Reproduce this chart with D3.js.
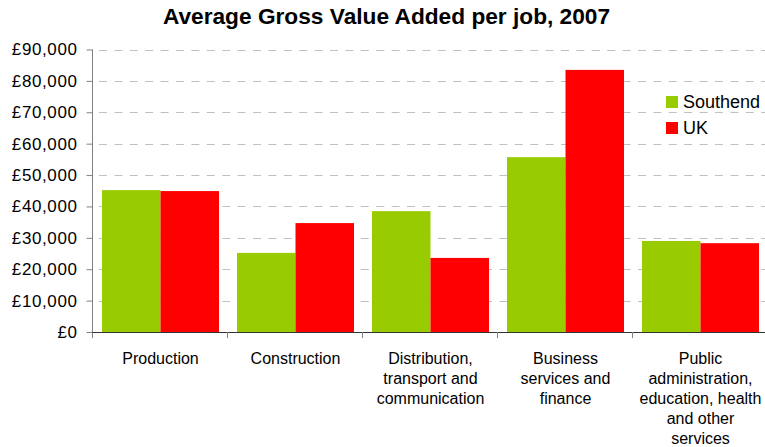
<!DOCTYPE html>
<html>
<head>
<meta charset="utf-8">
<script src="https://cdn.jsdelivr.net/npm/d3@7"></script>
<style>
  html, body { margin: 0; padding: 0; background: #fff; }
  svg { display: block; font-family: "Liberation Sans", Arial, Helvetica, sans-serif; }
</style>
</head>
<body>
<svg id="chart" width="765" height="447"></svg>
<script>
// Average Gross Value Added per job by sector, 2007 (£)
const categories = [
  "Production",
  "Construction",
  "Distribution,\ntransport and\ncommunication",
  "Business\nservices and\nfinance",
  "Public\nadministration,\neducation, health\nand other\nservices"
];
const seriesNames = ["Southend", "UK"];
const southend = [45200, 25200, 38500, 55700, 29000];
const uk = [44900, 34700, 23600, 83500, 28300];
const yTicks = [0, 10000, 20000, 30000, 40000, 50000, 60000, 70000, 80000, 90000];
const colors = ["#99CC00", "#FF0000"];

const rows = categories.map((c, i) => ({ cat: c, values: [southend[i], uk[i]] }));

const svg = d3.select("#chart");
const plotLeft = 93, plotRight = 768, plotTop = 49.5, plotBottom = 332;

const x = d3.scaleBand().domain(categories).range([plotLeft, plotRight]);
const xs = d3.scaleBand().domain(seriesNames).range([9, x.bandwidth() - 9]);
const y = d3.scaleLinear().domain([0, 90000]).range([plotBottom, plotTop]);

// Title
svg.append("text")
  .attr("x", 386.5).attr("y", 24)
  .attr("text-anchor", "middle")
  .style("font-size", "22.7px").style("font-weight", "bold")
  .text("Average Gross Value Added per job, 2007");

// Dashed gridlines
svg.append("g").selectAll("line")
  .data(yTicks.filter(d => d > 0))
  .join("line")
  .attr("x1", plotLeft + 6).attr("x2", 765)
  .attr("y1", d => Math.round(y(d)) + 0.5).attr("y2", d => Math.round(y(d)) + 0.5)
  .attr("stroke", "#C0C0C0").attr("stroke-width", 1)
  .attr("stroke-dasharray", "8,7.4");

// Bars
const groups = svg.append("g").selectAll("g")
  .data(rows).join("g")
  .attr("transform", d => `translate(${x(d.cat)},0)`);
groups.selectAll("rect")
  .data(d => d.values.map((v, i) => ({ key: seriesNames[i], v, i })))
  .join("rect")
  .attr("x", d => xs(d.key))
  .attr("width", xs.bandwidth())
  .attr("y", d => y(d.v))
  .attr("height", d => y(0) - y(d.v))
  .attr("fill", d => colors[d.i]);

// Y axis
const yAxis = svg.append("g")
  .attr("transform", `translate(${plotLeft - 0.5},0)`)
  .call(d3.axisLeft(y).tickValues(yTicks).tickSize(6).tickPadding(9)
    .tickFormat(d => "£" + d3.format(",")(d)));
yAxis.select(".domain").remove();
yAxis.selectAll(".tick line").attr("stroke", "#808080");
yAxis.selectAll(".tick text")
  .style("font-size", "17px").style("letter-spacing", "0.6px").attr("fill", "#000")
  .style("font-family", "'Liberation Sans', Arial, sans-serif");
svg.append("line")
  .attr("x1", plotLeft - 0.5).attr("x2", plotLeft - 0.5)
  .attr("y1", plotTop).attr("y2", plotBottom + 6)
  .attr("stroke", "#808080");

// X axis baseline and category ticks
svg.append("line")
  .attr("x1", plotLeft - 0.5).attr("x2", 765)
  .attr("y1", plotBottom + 0.5).attr("y2", plotBottom + 0.5)
  .attr("stroke", "#333");
svg.append("g").selectAll("line")
  .data(categories.slice(1))
  .join("line")
  .attr("x1", d => x(d) - 0.5).attr("x2", d => x(d) - 0.5)
  .attr("y1", plotBottom).attr("y2", plotBottom + 6)
  .attr("stroke", "#808080");

// Category labels
const labels = svg.append("g").selectAll("text")
  .data(categories).join("text")
  .attr("text-anchor", "middle")
  .attr("y", 364)
  .style("font-size", "16px");
labels.each(function (d) {
  const t = d3.select(this);
  d.split("\n").forEach((line, i) => {
    t.append("tspan")
      .attr("x", x(d) + x.bandwidth() / 2)
      .attr("dy", i === 0 ? 0 : 20)
      .text(line);
  });
});

// Legend
const legend = svg.append("g").selectAll("g")
  .data(seriesNames).join("g")
  .attr("transform", (d, i) => `translate(666,${96 + i * 26})`);
legend.append("rect")
  .attr("width", 12).attr("height", 12)
  .attr("fill", (d, i) => colors[i]);
legend.append("text")
  .attr("x", 17).attr("y", 12)
  .style("font-size", "18px")
  .text(d => d);
</script>
</body>
</html>
